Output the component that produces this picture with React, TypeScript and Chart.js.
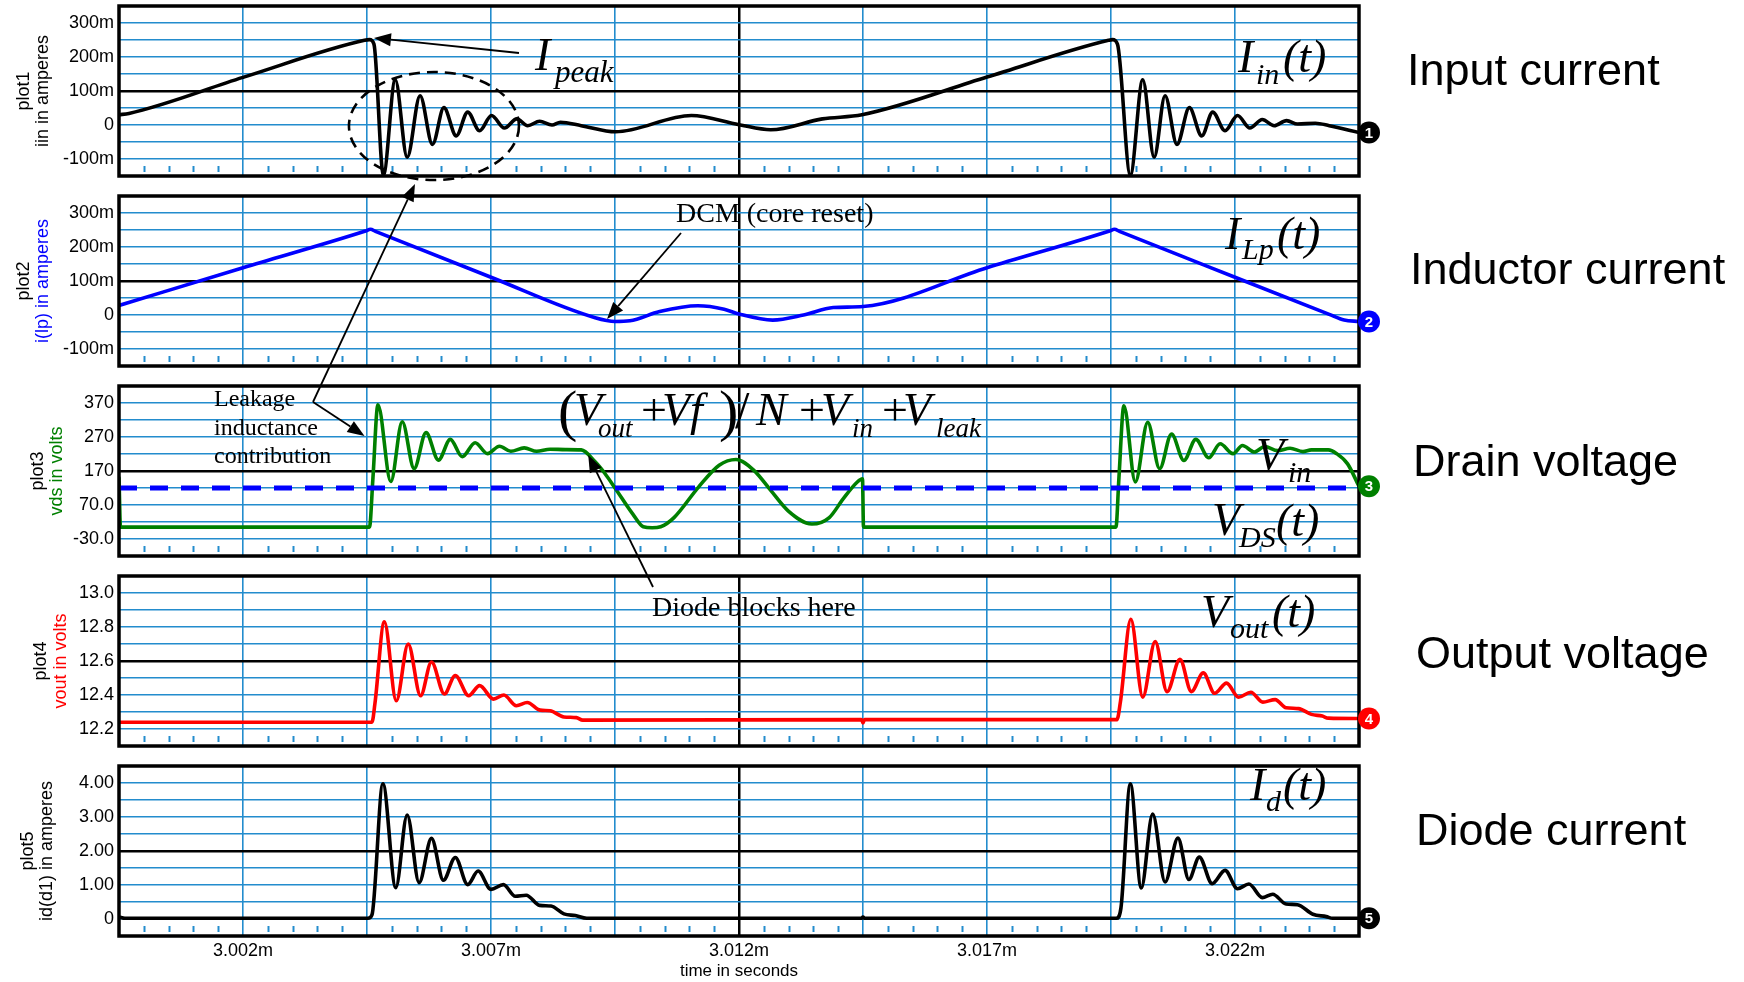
import React, { useEffect, useRef } from 'react';
import { Chart, registerables } from 'chart.js';

Chart.register(...registerables);

// ---------- page geometry ----------
const W = 1744;
const H = 982;
const PLOT_LEFT = 119;
const PLOT_RIGHT = 1359;
const PLOT_TOP0 = 6;
const PLOT_H = 170;
const PLOT_STEP = 190;

// ---------- x axis (time in microseconds) ----------
const X_MIN = 2999.5;
const X_MAX = 3024.5;
const X_GRID = [2999.5, 3002, 3004.5, 3007, 3009.5, 3012, 3014.5, 3017, 3019.5, 3022, 3024.5];
const X_LABEL_VALUES = [3002, 3007, 3012, 3017, 3022];
const X_LABEL_TEXT = ['3.002m', '3.007m', '3.012m', '3.017m', '3.022m'];
const X_CENTER = 3012;

// ---------- y axes ----------
const Y1_TICKS = [-150, -100, -50, 0, 50, 100, 150, 200, 250, 300, 350];
const Y1_LABEL_VALUES = [300, 200, 100, 0, -100];
const Y1_LABEL_TEXT = ['300m', '200m', '100m', '0', '-100m'];
const Y3_TICKS = [-80, -30, 20, 70, 120, 170, 220, 270, 320, 370, 420];
const Y3_LABEL_VALUES = [370, 270, 170, 70, -30];
const Y3_LABEL_TEXT = ['370', '270', '170', '70.0', '-30.0'];
const Y4_TICKS = [12.1, 12.2, 12.3, 12.4, 12.5, 12.6, 12.7, 12.8, 12.9, 13.0, 13.1];
const Y4_LABEL_VALUES = [13.0, 12.8, 12.6, 12.4, 12.2];
const Y4_LABEL_TEXT = ['13.0', '12.8', '12.6', '12.4', '12.2'];
const Y5_TICKS = [-0.5, 0, 0.5, 1, 1.5, 2, 2.5, 3, 3.5, 4, 4.5];
const Y5_LABEL_VALUES = [4, 3, 2, 1, 0];
const Y5_LABEL_TEXT = ['4.00', '3.00', '2.00', '1.00', '0'];

// ---------- series: [time us, value] ----------
// plot1: input current (mA)
const IIN: number[][] = [
  [2999.5, 30], [2999.7, 34], [3002.0, 140], [3004.45, 249], [3004.55, 251], [3004.64, 238],
  [3004.83, -147], [3005.07, 133], [3005.31, -95], [3005.57, 86], [3005.82, -57], [3006.05, 51],
  [3006.3, -32], [3006.53, 38], [3006.77, -17], [3007.01, 28], [3007.27, -9], [3007.52, 18],
  [3007.74, -2], [3007.98, 11], [3008.23, 0], [3008.4, 8], [3008.82, -2], [3009.51, -20],
  [3011.04, 28], [3012.0, 1], [3012.64, -14], [3013.68, 18], [3014.48, 30], [3017.0, 141],
  [3019.45, 249], [3019.53, 251], [3019.63, 238], [3019.89, -147], [3020.14, 133], [3020.37, -95],
  [3020.59, 86], [3020.83, -57], [3021.08, 51], [3021.33, -32], [3021.55, 38], [3021.8, -17],
  [3022.05, 28], [3022.3, -9], [3022.55, 16], [3022.79, -2], [3023.04, 13], [3023.26, 3],
  [3023.62, 5], [3023.9, -2], [3024.5, -22],
];
// plot2: inductor current (mA)
const ILP: number[][] = [
  [2999.5, 28], [3002.0, 139], [3004.47, 247], [3004.57, 252], [3004.67, 246], [3007.0, 111],
  [3009.1, -8], [3009.5, -19], [3009.8, -17], [3010.4, 10], [3011.17, 27], [3011.7, 17],
  [3012.0, 3], [3012.68, -15], [3013.3, 0], [3013.9, 22], [3014.5, 25], [3017.0, 139],
  [3019.47, 247], [3019.57, 252], [3019.67, 246], [3022.0, 111], [3023.9, 2], [3024.2, -15],
  [3024.5, -19],
];
// plot3: drain voltage (V)
const VDS: number[][] = [
  [2999.5, 150], [2999.53, 5], [3004.55, 5], [3004.62, 150], [3004.72, 365], [3004.98, 139],
  [3005.21, 315], [3005.45, 177], [3005.69, 283], [3005.94, 202], [3006.18, 263], [3006.42, 212],
  [3006.68, 253], [3006.93, 221], [3007.17, 243], [3007.4, 228], [3007.67, 238], [3007.92, 228],
  [3008.19, 234], [3008.5, 233], [3008.82, 232], [3009.1, 197], [3009.3, 162], [3009.51, 118],
  [3009.86, 43], [3010.07, 6], [3010.25, 3], [3010.42, 6], [3010.69, 33], [3011.18, 122],
  [3011.6, 187], [3011.94, 204], [3012.3, 172], [3012.64, 113], [3012.99, 53], [3013.47, 14],
  [3013.82, 33], [3014.1, 88], [3014.38, 137], [3014.49, 147], [3014.51, 5], [3019.6, 5],
  [3019.66, 150], [3019.76, 362], [3019.99, 138], [3020.24, 313], [3020.48, 177], [3020.72, 279],
  [3020.97, 201], [3021.21, 263], [3021.47, 209], [3021.7, 250], [3021.96, 221], [3022.15, 245],
  [3022.39, 226], [3022.6, 242], [3022.86, 230], [3023.11, 237], [3023.37, 227], [3023.54, 232],
  [3023.88, 232], [3024.05, 221], [3024.27, 191], [3024.5, 125],
];
// plot3: input voltage reference (dashed)
const VIN_LEVEL: number[][] = [[2999.5, 120], [3024.5, 120]];
// plot4: output voltage (V)
const VOUT: number[][] = [
  [2999.5, 12.24], [3004.6, 12.24], [3004.66, 12.35], [3004.85, 12.83], [3005.09, 12.366],
  [3005.33, 12.7], [3005.58, 12.396], [3005.8, 12.594], [3006.06, 12.406], [3006.28, 12.515],
  [3006.55, 12.396], [3006.77, 12.455], [3007.05, 12.376], [3007.26, 12.4], [3007.51, 12.337],
  [3007.73, 12.356], [3007.99, 12.311], [3008.19, 12.307], [3008.47, 12.271], [3008.72, 12.267],
  [3008.85, 12.252], [3014.47, 12.255], [3014.5, 12.235], [3014.53, 12.255], [3019.62, 12.255],
  [3019.69, 12.36], [3019.9, 12.846], [3020.14, 12.387], [3020.39, 12.715], [3020.63, 12.42],
  [3020.89, 12.61], [3021.12, 12.42], [3021.36, 12.53], [3021.59, 12.41], [3021.83, 12.47],
  [3022.07, 12.387], [3022.32, 12.416], [3022.56, 12.358], [3022.81, 12.373], [3023.03, 12.325],
  [3023.28, 12.32], [3023.54, 12.286], [3023.76, 12.276], [3023.88, 12.264], [3024.5, 12.262],
];
// plot5: diode current (A)
const ID: number[][] = [
  [2999.5, 0.06], [2999.62, 0.02], [3004.52, 0.02], [3004.6, 0.12], [3004.82, 3.98], [3005.08, 0.92],
  [3005.31, 3.06], [3005.55, 1.07], [3005.8, 2.37], [3006.04, 1.14], [3006.28, 1.81], [3006.53, 1.01],
  [3006.74, 1.41], [3007.0, 0.87], [3007.25, 1.01], [3007.49, 0.67], [3007.71, 0.7], [3007.98, 0.4],
  [3008.21, 0.38], [3008.47, 0.15], [3008.7, 0.1], [3008.93, 0.02], [3014.47, 0.02], [3014.5, 0.06],
  [3014.53, 0.02], [3019.61, 0.02], [3019.7, 0.32], [3019.89, 3.98], [3020.11, 0.91], [3020.34, 3.09],
  [3020.59, 1.09], [3020.85, 2.38], [3021.07, 1.16], [3021.28, 1.82], [3021.54, 1.04], [3021.8, 1.43],
  [3022.05, 0.89], [3022.28, 1.03], [3022.55, 0.63], [3022.76, 0.73], [3023.03, 0.44], [3023.26, 0.42],
  [3023.57, 0.14], [3023.84, 0.07], [3023.97, 0.02], [3024.5, 0.02],
];

// ---------- text ----------
const Y_TITLES_1 = ['plot1', 'plot2', 'plot3', 'plot4', 'plot5'];
const Y_TITLES_2 = ['iin in amperes', 'i(lp) in amperes', 'vds in volts', 'vout in volts', 'id(d1) in amperes'];
const RIGHT_LABELS = ['Input current', 'Inductor current', 'Drain voltage', 'Output voltage', 'Diode current'];
const X_TITLE = 'time in seconds';

// ---------- style ----------
const GRID_BLUE = 'rgb(35,140,205)';
const BLACK = '#000000';
const BLUE = '#0000ff';
const GREEN = '#008000';
const RED = '#ff0000';
const SANS = '"Liberation Sans", Arial, Helvetica, sans-serif';
const SERIF = '"Liberation Serif", "Times New Roman", serif';

type Series = { data: number[][]; color: string; width: number; dash?: number[] };
type PlotDef = {
  series: Series[];
  markerSeries: number;
  markerColor: string;
  ticks: number[];
  labelValues: number[];
  labelText: string[];
  center: number;
  titleColor: string;
  titleX: number[];
};

const PLOTS: PlotDef[] = [
  { series: [{ data: IIN, color: BLACK, width: 3.6 }], markerSeries: 0, markerColor: BLACK,
    ticks: Y1_TICKS, labelValues: Y1_LABEL_VALUES, labelText: Y1_LABEL_TEXT, center: 100, titleColor: BLACK, titleX: [24, 43] },
  { series: [{ data: ILP, color: BLUE, width: 3.6 }], markerSeries: 0, markerColor: BLUE,
    ticks: Y1_TICKS, labelValues: Y1_LABEL_VALUES, labelText: Y1_LABEL_TEXT, center: 100, titleColor: BLUE, titleX: [24, 43] },
  { series: [{ data: VIN_LEVEL, color: BLUE, width: 5, dash: [18, 13] }, { data: VDS, color: GREEN, width: 3.6 }], markerSeries: 1, markerColor: GREEN,
    ticks: Y3_TICKS, labelValues: Y3_LABEL_VALUES, labelText: Y3_LABEL_TEXT, center: 170, titleColor: GREEN, titleX: [38, 57] },
  { series: [{ data: VOUT, color: RED, width: 3.6 }], markerSeries: 0, markerColor: RED,
    ticks: Y4_TICKS, labelValues: Y4_LABEL_VALUES, labelText: Y4_LABEL_TEXT, center: 12.6, titleColor: RED, titleX: [41, 61] },
  { series: [{ data: ID, color: BLACK, width: 3.6 }], markerSeries: 0, markerColor: BLACK,
    ticks: Y5_TICKS, labelValues: Y5_LABEL_VALUES, labelText: Y5_LABEL_TEXT, center: 2, titleColor: BLACK, titleX: [28, 47] },
];

const near = (a: number, b: number) => Math.abs(a - b) < 1e-6;

const decoPlugin = {
  id: 'deco',
  beforeDatasetsDraw(chart: any) {
    const { ctx, chartArea: a, scales } = chart;
    const x = scales.x;
    ctx.save();
    ctx.strokeStyle = GRID_BLUE;
    ctx.lineWidth = 2;
    for (let i = 0; i < X_GRID.length - 1; i++) {
      for (let k = 1; k < 5; k++) {
        const t = X_GRID[i] + ((X_GRID[i + 1] - X_GRID[i]) * k) / 5;
        const px = Math.round(x.getPixelForValue(t)) + 0.5;
        ctx.beginPath();
        ctx.moveTo(px, a.bottom - 10);
        ctx.lineTo(px, a.bottom - 4);
        ctx.stroke();
      }
    }
    ctx.restore();
  },
  afterDraw(chart: any, _args: any, opts: any) {
    const { ctx, chartArea: a, scales } = chart;
    ctx.save();
    // frame
    ctx.strokeStyle = BLACK;
    ctx.lineWidth = 3.5;
    ctx.strokeRect(a.left, a.top, a.right - a.left, a.bottom - a.top);
    // y titles (two lines, rotated)
    const cy = (a.top + a.bottom) / 2;
    ctx.font = `18px ${SANS}`;
    ctx.textAlign = 'center';
    ctx.textBaseline = 'middle';
    const lines = [opts.title1, opts.title2];
    const colors = [BLACK, opts.titleColor];
    for (let i = 0; i < 2; i++) {
      ctx.save();
      ctx.translate(opts.titleX[i], cy);
      ctx.rotate(-Math.PI / 2);
      ctx.fillStyle = colors[i];
      ctx.fillText(lines[i], 0, 0);
      ctx.restore();
    }
    // numbered marker at the end of the trace
    const d = opts.markerData;
    const last = d[d.length - 1];
    const my = scales.y.getPixelForValue(last[1]);
    const mx = a.right + 10;
    ctx.beginPath();
    ctx.arc(mx, my, 11, 0, Math.PI * 2);
    ctx.fillStyle = opts.markerColor;
    ctx.fill();
    ctx.fillStyle = '#ffffff';
    ctx.font = `bold 15px ${SANS}`;
    ctx.textAlign = 'center';
    ctx.textBaseline = 'middle';
    ctx.fillText(opts.marker, mx, my + 1);
    ctx.restore();
  },
};

function makeChart(canvas: HTMLCanvasElement, p: PlotDef, idx: number) {
  const isLast = idx === PLOTS.length - 1;
  const top = PLOT_TOP0 + idx * PLOT_STEP;
  const bottom = top + PLOT_H;
  const xH = isLast ? 46 : 0;
  const gridColor = (c: number) => (ctx: any) => (ctx.tick && near(ctx.tick.value, c) ? BLACK : GRID_BLUE);
  const gridWidth = (c: number) => (ctx: any) => (ctx.tick && near(ctx.tick.value, c) ? 2.5 : 1.6);
  return new Chart(canvas, {
    type: 'line',
    data: {
      datasets: p.series.map((s) => ({
        data: s.data.map((pt) => ({ x: pt[0], y: pt[1] })),
        borderColor: s.color,
        borderWidth: s.width,
        borderDash: s.dash || [],
        borderJoinStyle: 'round',
        borderCapStyle: s.dash ? 'butt' : 'round',
        pointRadius: 0,
        cubicInterpolationMode: s.dash ? 'default' : 'monotone',
        tension: 0,
        fill: false,
      })) as any,
    },
    options: {
      animation: false,
      responsive: false,
      devicePixelRatio: 1,
      events: [],
      layout: { padding: { top, left: 0, right: W - PLOT_RIGHT, bottom: H - bottom - xH } },
      plugins: {
        legend: { display: false },
        tooltip: { enabled: false },
        deco: {
          title1: Y_TITLES_1[idx],
          title2: Y_TITLES_2[idx],
          titleColor: p.titleColor,
          titleX: p.titleX,
          marker: String(idx + 1),
          markerColor: p.markerColor,
          markerData: p.series[p.markerSeries].data,
        },
      } as any,
      scales: {
        x: {
          type: 'linear',
          min: X_MIN,
          max: X_MAX,
          afterBuildTicks: (s: any) => {
            s.ticks = X_GRID.map((v) => ({ value: v }));
          },
          afterFit: (s: any) => {
            s.height = xH;
            s.paddingLeft = 0;
            s.paddingRight = 0;
          },
          ticks: {
            display: isLast,
            autoSkip: false,
            maxRotation: 0,
            padding: 4,
            color: BLACK,
            font: { family: SANS, size: 18 },
            callback: (v: any) => {
              const i = X_LABEL_VALUES.findIndex((l) => near(l, Number(v)));
              return i >= 0 ? X_LABEL_TEXT[i] : '';
            },
          },
          grid: { color: gridColor(X_CENTER), lineWidth: gridWidth(X_CENTER), drawTicks: false },
          border: { display: false },
          title: {
            display: isLast,
            text: X_TITLE,
            color: BLACK,
            font: { family: SANS, size: 17 },
            padding: { top: 0, bottom: 0 },
          },
        },
        y: {
          type: 'linear',
          min: p.ticks[0],
          max: p.ticks[p.ticks.length - 1],
          afterBuildTicks: (s: any) => {
            s.ticks = p.ticks.map((v) => ({ value: v }));
          },
          afterFit: (s: any) => {
            s.width = PLOT_LEFT;
            s.paddingTop = 0;
            s.paddingBottom = 0;
          },
          ticks: {
            autoSkip: false,
            padding: 5,
            color: BLACK,
            font: { family: SANS, size: 18 },
            callback: (v: any) => {
              const i = p.labelValues.findIndex((l) => near(l, Number(v)));
              return i >= 0 ? p.labelText[i] : '';
            },
          },
          grid: { color: gridColor(p.center), lineWidth: gridWidth(p.center), drawTicks: false },
          border: { display: false },
        },
      },
    } as any,
    plugins: [decoPlugin as any],
  });
}

// ---------- overlay annotations ----------
type Seg = { t: string; x: number; y: number; size: number; italic?: boolean };

const FORMULA: Seg[] = [
  { t: '(', x: 558, y: 430, size: 58 },
  { t: 'V', x: 574, y: 425, size: 46, italic: true },
  { t: 'out', x: 598, y: 437, size: 27, italic: true },
  { t: '+', x: 641, y: 425, size: 46 },
  { t: 'Vf', x: 662, y: 425, size: 46, italic: true },
  { t: ')', x: 719, y: 430, size: 58 },
  { t: '/', x: 735, y: 428, size: 52 },
  { t: 'N', x: 756, y: 425, size: 46, italic: true },
  { t: '+', x: 799, y: 425, size: 46 },
  { t: 'V', x: 821, y: 425, size: 46, italic: true },
  { t: 'in', x: 852, y: 437, size: 27, italic: true },
  { t: '+', x: 882, y: 425, size: 46 },
  { t: 'V', x: 903, y: 425, size: 46, italic: true },
  { t: 'leak', x: 936, y: 437, size: 27, italic: true },
];

const MATH_LABELS: Seg[] = [
  { t: 'I', x: 535, y: 70, size: 46, italic: true },
  { t: 'peak', x: 555, y: 82, size: 31, italic: true },
  { t: 'I', x: 1238, y: 72, size: 46, italic: true },
  { t: 'in', x: 1256, y: 84, size: 30, italic: true },
  { t: '(t)', x: 1283, y: 72, size: 46, italic: true },
  { t: 'I', x: 1225, y: 249, size: 46, italic: true },
  { t: 'Lp', x: 1242, y: 259, size: 30, italic: true },
  { t: '(t)', x: 1277, y: 249, size: 46, italic: true },
  { t: 'V', x: 1256, y: 470, size: 46, italic: true },
  { t: 'in', x: 1288, y: 482, size: 30, italic: true },
  { t: 'V', x: 1212, y: 535, size: 46, italic: true },
  { t: 'DS', x: 1239, y: 547, size: 30, italic: true },
  { t: '(t)', x: 1276, y: 536, size: 46, italic: true },
  { t: 'V', x: 1201, y: 627, size: 46, italic: true },
  { t: 'out', x: 1230, y: 638, size: 30, italic: true },
  { t: '(t)', x: 1272, y: 627, size: 46, italic: true },
  { t: 'I', x: 1250, y: 800, size: 46, italic: true },
  { t: 'd', x: 1266, y: 811, size: 30, italic: true },
  { t: '(t)', x: 1283, y: 800, size: 46, italic: true },
];

const PLAIN_NOTES: Seg[] = [
  { t: 'Leakage', x: 214, y: 406, size: 24 },
  { t: 'inductance', x: 214, y: 435, size: 24 },
  { t: 'contribution', x: 214, y: 463, size: 24 },
  { t: 'DCM (core reset)', x: 676, y: 222, size: 28 },
  { t: 'Diode blocks here', x: 652, y: 616, size: 28 },
];

const RIGHT_X = [1407, 1410, 1413, 1416, 1416];
const RIGHT_BASE = [85, 284, 476, 668, 845];

function drawOverlay(canvas: HTMLCanvasElement, charts: Chart[]) {
  const ctx = canvas.getContext('2d')!;
  ctx.clearRect(0, 0, W, H);
  const px = (plot: number, t: number, v: number) => {
    const c: any = charts[plot];
    return [c.scales.x.getPixelForValue(t), c.scales.y.getPixelForValue(v)];
  };
  const seg = (s: Seg) => {
    ctx.font = `${s.italic ? 'italic ' : ''}${s.size}px ${SERIF}`;
    ctx.fillStyle = BLACK;
    ctx.textAlign = 'left';
    ctx.textBaseline = 'alphabetic';
    ctx.fillText(s.t, s.x, s.y);
  };
  const arrow = (x1: number, y1: number, x2: number, y2: number) => {
    const ang = Math.atan2(y2 - y1, x2 - x1);
    const L = 17;
    const hw = 6.5;
    const bx = x2 - L * Math.cos(ang);
    const by = y2 - L * Math.sin(ang);
    ctx.strokeStyle = BLACK;
    ctx.lineWidth = 1.8;
    ctx.setLineDash([]);
    ctx.beginPath();
    ctx.moveTo(x1, y1);
    ctx.lineTo(bx, by);
    ctx.stroke();
    ctx.fillStyle = BLACK;
    ctx.beginPath();
    ctx.moveTo(x2, y2);
    ctx.lineTo(bx + hw * Math.sin(ang), by - hw * Math.cos(ang));
    ctx.lineTo(bx - hw * Math.sin(ang), by + hw * Math.cos(ang));
    ctx.closePath();
    ctx.fill();
  };

  // dashed ellipse around the ringing
  const [ex, ey] = px(0, 3005.85, -3);
  ctx.save();
  ctx.strokeStyle = BLACK;
  ctx.lineWidth = 2.6;
  ctx.setLineDash([11, 7]);
  ctx.beginPath();
  ctx.ellipse(ex, ey, 85, 54, 0, 0, Math.PI * 2);
  ctx.stroke();
  ctx.restore();

  // arrows
  const [pkx, pky] = px(0, 3004.64, 256);
  arrow(519, 53, pkx, pky);
  arrow(313, 402, ex - 19, ey + 58);
  const [lkx, lky] = px(2, 3004.45, 273);
  arrow(313, 402, lkx, lky);
  const [dcx, dcy] = px(1, 3009.34, -12);
  arrow(681, 233, dcx, dcy);
  const [dbx, dby] = px(2, 3008.96, 217);
  arrow(653, 587, dbx, dby);

  FORMULA.forEach(seg);
  MATH_LABELS.forEach(seg);
  PLAIN_NOTES.forEach(seg);

  ctx.font = `45px ${SANS}`;
  ctx.fillStyle = BLACK;
  ctx.textAlign = 'left';
  ctx.textBaseline = 'alphabetic';
  RIGHT_LABELS.forEach((l, i) => ctx.fillText(l, RIGHT_X[i], RIGHT_BASE[i]));
}

export default function App() {
  const refs = useRef<(HTMLCanvasElement | null)[]>([]);
  const overlayRef = useRef<HTMLCanvasElement | null>(null);

  useEffect(() => {
    document.body.style.margin = '0';
    const charts = PLOTS.map((p, i) => makeChart(refs.current[i]!, p, i));
    drawOverlay(overlayRef.current!, charts);
    return () => {
      charts.forEach((c) => c.destroy());
    };
  }, []);

  return (
    <div style={{ position: 'absolute', left: 0, top: 0, width: W, height: H, background: '#ffffff', overflow: 'hidden' }}>
      {PLOTS.map((_, i) => (
        <canvas
          key={i}
          ref={(el) => {
            refs.current[i] = el;
          }}
          width={W}
          height={H}
          style={{ position: 'absolute', left: 0, top: 0, width: W, height: H }}
        />
      ))}
      <canvas
        ref={overlayRef}
        width={W}
        height={H}
        style={{ position: 'absolute', left: 0, top: 0, width: W, height: H, pointerEvents: 'none' }}
      />
    </div>
  );
}
